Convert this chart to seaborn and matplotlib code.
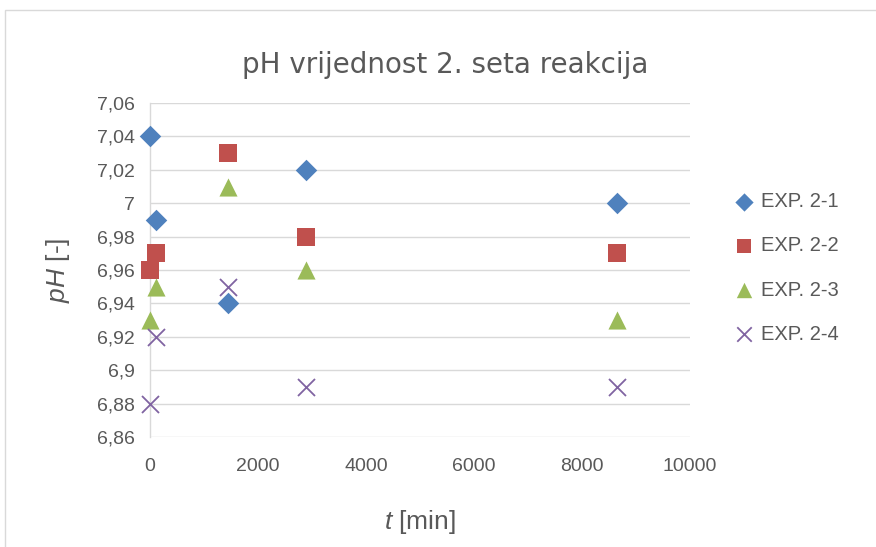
import matplotlib
matplotlib.use("Agg")
import matplotlib.pyplot as plt
import seaborn as sns
import pandas as pd
from matplotlib.ticker import FuncFormatter, MultipleLocator
from matplotlib.patches import Rectangle

# ---- data ----
t_min = [0, 120, 1440, 2880, 8640]
exp_2_1 = [7.04, 6.99, 6.94, 7.02, 7.00]
exp_2_2 = [6.96, 6.97, 7.03, 6.98, 6.97]
exp_2_3 = [6.93, 6.95, 7.01, 6.96, 6.93]
exp_2_4 = [6.88, 6.92, 6.95, 6.89, 6.89]
series_names = ["EXP. 2-1", "EXP. 2-2", "EXP. 2-3", "EXP. 2-4"]
title = "pH vrijednost 2. seta reakcija"

rows = []
for name, vals in zip(series_names, [exp_2_1, exp_2_2, exp_2_3, exp_2_4]):
    for t, v in zip(t_min, vals):
        rows.append({"t": t, "pH": v, "serie": name})
df = pd.DataFrame(rows)

sns.set_theme(style="white")
plt.rcParams["font.family"] = ["Liberation Sans", "DejaVu Sans"]
plt.rcParams["mathtext.fontset"] = "custom"
plt.rcParams["mathtext.it"] = "Liberation Sans:italic"
plt.rcParams["mathtext.rm"] = "Liberation Sans"

txt = "#595959"
colors = {"EXP. 2-1": "#4F81BD", "EXP. 2-2": "#C0504D",
          "EXP. 2-3": "#9BBB59", "EXP. 2-4": "#8064A2"}
markers = {"EXP. 2-1": "D", "EXP. 2-2": "s", "EXP. 2-3": "^", "EXP. 2-4": "x"}
sizes = {"EXP. 2-1": 120, "EXP. 2-2": 160, "EXP. 2-3": 170, "EXP. 2-4": 150}

fig = plt.figure(figsize=(8.76, 5.47), dpi=100)
ax = fig.add_axes([150/876, 1-437/547, 540/876, 334/547])

for name in series_names:
    sub = df[df["serie"] == name]
    lw = 1.3 if markers[name] == "x" else 0
    sns.scatterplot(data=sub, x="t", y="pH", color=colors[name], marker=markers[name],
                    s=sizes[name], linewidth=lw, ax=ax, clip_on=False, zorder=3,
                    label=name)

ax.set_xlim(0, 10000)
ax.set_ylim(6.86, 7.06)
ax.xaxis.set_major_locator(MultipleLocator(2000))
ax.yaxis.set_major_locator(MultipleLocator(0.02))

def yfmt(v, pos):
    s = f"{v:.2f}".rstrip("0").rstrip(".")
    return s.replace(".", ",")
ax.yaxis.set_major_formatter(FuncFormatter(yfmt))
ax.xaxis.set_major_formatter(FuncFormatter(lambda v, p: f"{int(round(v))}"))

ax.grid(axis="y", color="#D9D9D9", linewidth=1.0)
ax.set_axisbelow(True)
for side in ["top", "right", "bottom"]:
    ax.spines[side].set_visible(False)
ax.spines["left"].set_color("#D9D9D9")
ax.spines["left"].set_linewidth(1.0)
ax.tick_params(axis="both", length=0, labelsize=14, labelcolor=txt)
ax.tick_params(axis="x", pad=15)
ax.tick_params(axis="y", pad=11)

ax.set_xlabel(r"$t$ [min]", fontsize=19, color=txt)
ax.set_ylabel(r"$pH$ [-]", fontsize=19, color=txt)
ax.xaxis.label.set_va("center")
ax.yaxis.label.set_va("center")
ax.xaxis.set_label_coords(0.5, (437-522)/334)
ax.yaxis.set_label_coords((58-150)/540, 0.5)

fig.text(445/876, 1-65/547, title, fontsize=20, color=txt, ha="center", va="center",
         family=["DejaVu Sans"])

handles, labels = ax.get_legend_handles_labels()
leg = ax.legend(handles, labels, loc="center left", bbox_to_anchor=(716/876, 1-268/547),
                bbox_transform=fig.transFigure, frameon=False, fontsize=14.5,
                labelspacing=1.25, handlelength=1.0, handletextpad=0.35,
                markerscale=0.85)
for t in leg.get_texts():
    t.set_color(txt)

fig.patches.append(Rectangle((5/876, -0.1), 1.2, 1-10/547+0.1, transform=fig.transFigure,
                             fill=False, edgecolor="#D9D9D9", linewidth=1.0))

fig.savefig("out.png", dpi=100)
